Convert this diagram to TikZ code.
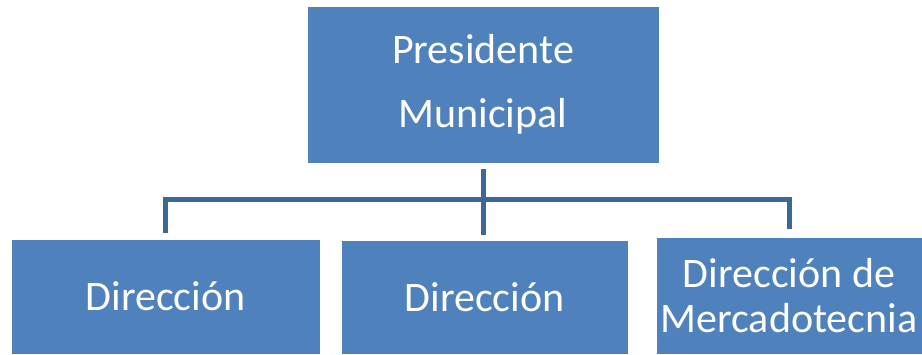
\documentclass[tikz,border=0pt]{standalone}
\usepackage{fontspec}
\setmainfont{Carlito}
\definecolor{boxfill}{HTML}{4F81BD}
\definecolor{linec}{HTML}{3D6797}
\tikzset{
  orgbox/.style={draw=white, line width=0.8pt, fill=boxfill, text=white, inner sep=0pt, align=center},
  conn/.style={draw=linec, line width=5pt}
}
\begin{document}
\begin{tikzpicture}[x=1pt,y=-1pt]
\useasboundingbox (0,0) rectangle (922,354);
\node[orgbox, minimum width=352pt, minimum height=157pt, font=\fontsize{42}{64}\selectfont] (top) at (483,84.5) {Presidente\\Municipal};
\node[orgbox, minimum width=309pt, minimum height=115pt, font=\fontsize{42}{48}\selectfont] (left) at (165.5,296.5) {Dirección};
\node[orgbox, minimum width=287pt, minimum height=114pt, font=\fontsize{42}{48}\selectfont] (mid) at (484.5,297) {Dirección};
\node[orgbox, minimum width=266pt, minimum height=117pt, font=\fontsize{42}{45}\selectfont] (right) at (789,295.5) {Dirección de\\Mercadotecnia};
\coordinate (bus) at (483,199);
\draw[conn] ([yshift=-6pt]top.south) -- ([yshift=5pt]top.south |- mid.north);
\draw[conn] ([xshift=-2.5pt]bus) -| ([yshift=6pt]left.north);
\draw[conn] ([xshift=2.5pt]bus) -| ([yshift=8pt]right.north);
\end{tikzpicture}
\end{document}
